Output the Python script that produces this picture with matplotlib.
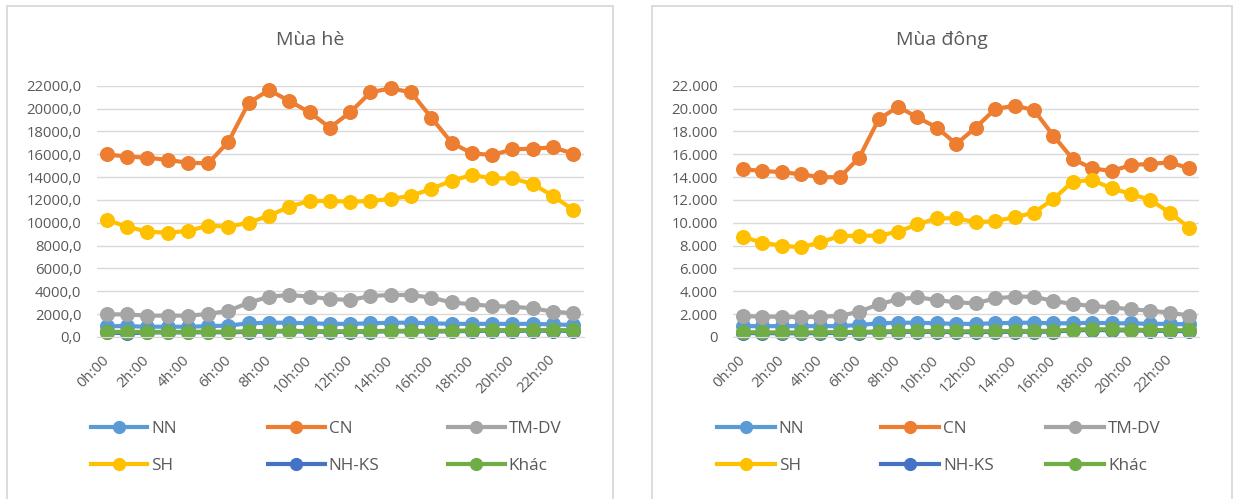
import matplotlib
matplotlib.use("Agg")
import matplotlib.pyplot as plt
from matplotlib.lines import Line2D
from matplotlib.patches import Rectangle

plt.rcParams["font.family"] = ["Open Sans", "DejaVu Sans"]

# === Data ===
hours = [f"{h}h:00" for h in range(24)]
series_names = ["NN", "CN", "TM-DV", "SH", "NH-KS", "Khác"]
colors = ["#5B9BD5", "#ED7D31", "#A5A5A5", "#FFC000", "#4472C4", "#70AD47"]

summer_nn = [950, 950, 900, 900, 900, 950, 1000, 1200, 1250, 1250, 1200, 1150,
             1150, 1200, 1250, 1250, 1200, 1150, 1150, 1150, 1150, 1150, 1100, 1050]
summer_cn = [15990, 15790, 15700, 15500, 15260, 15200, 17100, 20510, 21620, 20660, 19670, 18330,
             19670, 21420, 21770, 21420, 19200, 17010, 16080, 15930, 16430, 16490, 16600, 16050]
summer_tmdv = [1980, 1980, 1870, 1870, 1870, 2010, 2300, 3000, 3530, 3680, 3530, 3330,
               3240, 3590, 3680, 3680, 3440, 3030, 2860, 2710, 2650, 2510, 2220, 2070]
summer_sh = [10240, 9660, 9220, 9130, 9280, 9750, 9660, 10010, 10620, 11410, 11910, 11910,
             11850, 11910, 12080, 12370, 12960, 13690, 14180, 13890, 13890, 13390, 12340, 11120]
summer_nhks = [400, 320, 400, 400, 400, 420, 410, 450, 480, 490, 470, 450,
               450, 470, 490, 490, 480, 500, 530, 550, 550, 550, 550, 540]
summer_khac = [450, 450, 450, 450, 450, 470, 460, 500, 530, 540, 520, 500,
               500, 520, 540, 540, 530, 550, 580, 600, 600, 600, 600, 590]

winter_nn = [950, 950, 950, 950, 950, 950, 1050, 1200, 1250, 1250, 1200, 1150,
             1150, 1200, 1250, 1250, 1200, 1200, 1250, 1200, 1200, 1150, 1150, 1100]
winter_cn = [14700, 14530, 14440, 14240, 14000, 13980, 15700, 19050, 20160, 19230, 18330, 16900,
             18330, 19960, 20250, 19870, 17620, 15580, 14760, 14530, 15060, 15150, 15290, 14760]
winter_tmdv = [1840, 1780, 1780, 1720, 1780, 1840, 2220, 2860, 3300, 3470, 3240, 3030,
               2950, 3380, 3530, 3530, 3150, 2890, 2710, 2600, 2420, 2300, 2130, 1870]
winter_sh = [8780, 8260, 8000, 7850, 8290, 8840, 8870, 8870, 9220, 9860, 10390, 10390,
             10040, 10150, 10480, 10880, 12080, 13600, 13740, 13010, 12520, 11990, 10880, 9570]
winter_nhks = [350, 340, 330, 330, 340, 360, 380, 410, 450, 460, 440, 430,
               430, 440, 460, 460, 470, 580, 610, 590, 570, 550, 530, 510]
winter_khac = [420, 410, 400, 400, 410, 430, 450, 480, 520, 530, 510, 500,
               500, 510, 530, 530, 540, 650, 680, 660, 640, 620, 600, 580]

summer = [summer_nn, summer_cn, summer_tmdv, summer_sh, summer_nhks, summer_khac]
winter = [winter_nn, winter_cn, winter_tmdv, winter_sh, winter_nhks, winter_khac]

TEXT = "#595959"
GRID = "#D9D9D9"
W, H = 1237, 499
LW, MS = 3.0, 9.8


def px_box(x0, x1, ytop, ybot):
    return [x0 / W, 1 - ybot / H, (x1 - x0) / W, (ybot - ytop) / H]


def draw_panel(ax, data, fmt):
    x = list(range(len(hours)))
    for vals, c in zip(data, colors):
        ax.plot(x, vals, color=c, lw=LW, marker="o", ms=MS, clip_on=False,
                solid_capstyle="round")
    ax.set_xlim(-0.5, 23.5)
    ax.set_ylim(0, 22000)
    ax.set_yticks(range(0, 22001, 2000))
    ax.set_yticklabels([fmt(v) for v in range(0, 22001, 2000)])
    ax.set_xticks(x[::2])
    ax.set_xticklabels(hours[::2], rotation=45, ha="right", va="center",
                       rotation_mode="anchor")
    ax.grid(axis="y", color=GRID, lw=1.0)
    ax.set_axisbelow(True)
    for s in ["top", "right", "left"]:
        ax.spines[s].set_visible(False)
    ax.spines["bottom"].set_color(GRID)
    ax.tick_params(axis="y", length=0, pad=11, labelsize=10.7, labelcolor=TEXT)
    ax.tick_params(axis="x", length=0, pad=15, labelsize=10.6, labelcolor=TEXT)


def draw_legend(fig, xs, rows, line_len):
    for i, (name, c) in enumerate(zip(series_names, colors)):
        x0 = xs[i % 3]
        y0 = rows[i // 3]
        h = Line2D([0], [0], color=c, lw=LW, marker="o", ms=8.5)
        fig.legend([h], [name], loc="center left",
                   bbox_to_anchor=(x0 / W, 1 - y0 / H), frameon=False,
                   borderpad=0, borderaxespad=0, handlelength=line_len / 17.0,
                   handletextpad=0.22, fontsize=12.3, labelcolor=TEXT)


fig = plt.figure(figsize=(W / 100, H / 100), dpi=100)

# panel frames
for x0, x1 in [(7, 613), (652, 1232)]:
    fig.add_artist(Rectangle((x0 / W, -0.05), (x1 - x0) / W, 1 - 6 / H + 0.05,
                             transform=fig.transFigure, fill=False,
                             edgecolor=GRID, lw=1.3))

# === Mùa hè ===
ax1 = fig.add_axes(px_box(96.6, 583.5, 85.7, 337))
draw_panel(ax1, summer, lambda v: f"{v:.1f}".replace(".", ","))
fig.text(310 / W, 1 - 40 / H, "Mùa hè", ha="center", va="center",
         fontsize=14, color=TEXT)
draw_legend(fig, [90.6, 268, 448], [429, 465.7], 56.5)

# === Mùa đông ===
ax2 = fig.add_axes(px_box(733, 1199, 85.7, 337))
draw_panel(ax2, winter, lambda v: f"{v:,.0f}".replace(",", "."))
fig.text(942 / W, 1 - 40 / H, "Mùa đông", ha="center", va="center",
         fontsize=14, color=TEXT)
draw_legend(fig, [716.6, 881, 1046], [429, 465.7], 58)

fig.savefig("out.png", dpi=100, facecolor="white")
